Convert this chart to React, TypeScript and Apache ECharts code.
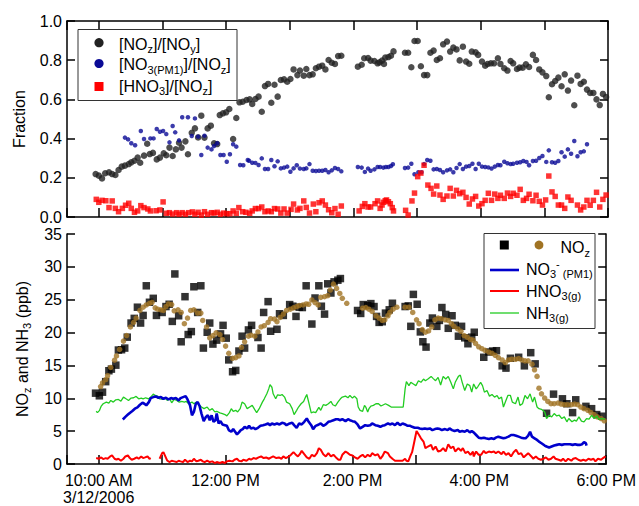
import React, { useEffect, useRef } from 'react';
import * as echarts from 'echarts';

const FONT = '"Liberation Sans", Arial, Helvetica, sans-serif';

// ---- Top panel: fractions (time in decimal hours, 3/12/2006) ----
const nozNoyRatio = [
  [9.95,0.219],[10.0,0.211],[10.05,0.197],[10.1,0.223],[10.16,0.228],[10.21,0.219],[10.26,0.214],[10.31,0.24],[10.36,0.257],[10.41,0.262],
  [10.47,0.27],[10.51,0.279],[10.56,0.287],[10.61,0.303],[10.65,0.277],[10.71,0.313],[10.76,0.374],[10.8,0.321],[10.85,0.327],[10.91,0.294],
  [10.96,0.303],[11.02,0.325],[11.06,0.315],[11.11,0.354],[11.16,0.311],[11.21,0.345],[11.26,0.379],[11.3,0.354],[11.36,0.386],[11.4,0.32],
  [11.46,0.43],[11.51,0.452],[11.56,0.406],[11.61,0.517],[11.66,0.405],[11.71,0.452],[11.76,0.466],[11.81,0.376],[11.86,0.372],[11.9,0.52],
  [11.95,0.529],[12.0,0.534],[12.05,0.551],[12.11,0.398],[12.16,0.505],[12.21,0.585],[12.26,0.588],[12.32,0.597],
  [12.37,0.6],[12.41,0.577],[12.46,0.602],[12.51,0.614],[12.56,0.537],[12.61,0.668],[12.66,0.679],[12.71,0.583],[12.76,0.675],[12.81,0.614],
  [12.86,0.699],[12.91,0.702],[12.96,0.69],[13.01,0.704],[13.06,0.753],[13.12,0.724],[13.16,0.747],[13.22,0.721],[13.26,0.755],[13.31,0.724],
  [13.36,0.728],[13.41,0.759],[13.46,0.767],[13.51,0.772],[13.56,0.753],[13.61,0.801],[13.66,0.787],[13.71,0.781],[13.76,0.821],[13.81,0.823],
  [14.07,0.767],[14.13,0.777],[14.17,0.81],[14.23,0.811],[14.27,0.798],[14.33,0.796],[14.38,0.784],[14.41,0.789],[14.45,0.798],[14.48,0.781],
  [14.5,0.813],[14.55,0.816],[14.59,0.823],[14.63,0.845],
  [14.81,0.838],[14.86,0.838],[14.91,0.764],[14.96,0.898],[15.01,0.898],[15.06,0.769],[15.11,0.724],[15.16,0.724],[15.21,0.838],
  [15.26,0.849],[15.31,0.801],[15.36,0.81],[15.41,0.881],[15.47,0.895],[15.52,0.844],[15.57,0.864],[15.62,0.855],[15.67,0.799],[15.72,0.869],
  [15.77,0.793],[15.82,0.782],[15.86,0.844],[15.92,0.84],[15.96,0.827],[16.02,0.793],[16.07,0.772],[16.11,0.781],[16.16,0.784],[16.21,0.784],
  [16.27,0.81],[16.31,0.781],[16.37,0.759],[16.42,0.747],[16.47,0.796],[16.51,0.784],[16.57,0.755],[16.61,0.762],[16.66,0.762],[16.71,0.779],
  [16.76,0.765],[16.82,0.827],[16.87,0.801],[16.92,0.753],[16.97,0.738],[17.03,0.719],[17.07,0.611],[17.12,0.677],[17.17,0.694],[17.22,0.711],
  [17.27,0.667],[17.32,0.728],[17.37,0.645],[17.42,0.696],[17.47,0.57],[17.52,0.721],[17.57,0.679],[17.62,0.69],[17.67,0.65],[17.72,0.633],
  [17.77,0.633],[17.82,0.6],[17.87,0.571],[17.92,0.628],[17.97,0.612],
];

const no3PmNozRatio = [
  [10.41,0.405],[10.46,0.396],[10.51,0.376],[10.57,0.366],[10.66,0.439],[10.71,0.398],[10.81,0.401],[10.86,0.401],[10.91,0.449],[10.96,0.435],
  [11.01,0.439],[11.06,0.423],[11.11,0.381],[11.16,0.464],[11.2,0.432],[11.26,0.391],[11.31,0.509],[11.4,0.509],[11.46,0.413],[11.51,0.503],
  [11.56,0.41],[11.61,0.316],[11.66,0.415],[11.71,0.354],[11.77,0.345],[11.81,0.362],[11.86,0.376],[11.91,0.316],[11.96,0.316],[12.01,0.282],
  [12.06,0.32],[12.11,0.371],[12.16,0.359],[12.22,0.265],[12.27,0.264],[12.34,0.291],
  [12.36,0.287],[12.41,0.277],[12.46,0.276],[12.51,0.265],[12.56,0.299],[12.61,0.245],[12.66,0.245],[12.71,0.291],[12.76,0.259],[12.81,0.284],
  [12.86,0.248],[12.91,0.252],[12.96,0.257],[13.01,0.231],[13.06,0.248],[13.11,0.264],[13.16,0.247],[13.22,0.245],[13.26,0.248],[13.31,0.27],
  [13.36,0.236],[13.41,0.235],[13.46,0.236],[13.51,0.236],[13.56,0.24],[13.61,0.228],[13.66,0.238],[13.71,0.25],[13.76,0.245],[13.81,0.233],
  [14.07,0.255],[14.13,0.252],[14.18,0.23],[14.23,0.247],[14.27,0.236],[14.33,0.243],[14.38,0.255],[14.42,0.255],[14.47,0.252],[14.51,0.255],
  [14.55,0.255],[14.59,0.26],[14.62,0.269],
  [14.81,0.25],[14.86,0.252],[14.91,0.272],[14.96,0.218],[15.02,0.228],[15.07,0.228],[15.11,0.27],[15.16,0.291],[15.21,0.287],
  [15.26,0.243],[15.31,0.245],[15.36,0.24],[15.41,0.228],[15.47,0.238],[15.52,0.243],[15.57,0.228],[15.62,0.25],[15.67,0.27],[15.72,0.245],
  [15.77,0.257],[15.82,0.26],[15.87,0.272],[15.92,0.245],[15.97,0.272],[16.02,0.257],[16.07,0.255],[16.12,0.253],[16.17,0.247],[16.22,0.257],
  [16.27,0.265],[16.31,0.264],[16.37,0.282],[16.42,0.274],[16.47,0.27],[16.51,0.272],[16.57,0.277],[16.62,0.279],[16.67,0.286],[16.72,0.281],
  [16.76,0.264],[16.82,0.286],[16.87,0.287],[16.92,0.301],[16.97,0.311],[17.03,0.281],[17.07,0.34],[17.12,0.279],[17.17,0.277],[17.22,0.286],
  [17.27,0.33],[17.32,0.308],[17.37,0.345],[17.42,0.323],[17.47,0.388],[17.52,0.31],[17.57,0.33],[17.62,0.335],[17.67,0.371],
];

const hno3NozRatio = [
  [9.96,0.09],[10.0,0.075],[10.05,0.085],[10.11,0.083],[10.16,0.048],[10.21,0.082],[10.26,0.044],[10.31,0.027],[10.37,0.044],[10.42,0.06],
  [10.47,0.07],[10.51,0.044],[10.56,0.024],[10.61,0.031],[10.66,0.058],[10.71,0.048],[10.77,0.041],[10.81,0.031],[10.9,0.032],[10.96,0.036],
  [11.01,0.077],[11.06,0.019],[11.11,0.022],[11.16,0.015],[11.22,0.022],[11.26,0.014],[11.31,0.022],[11.36,0.014],[11.41,0.022],[11.47,0.026],
  [11.51,0.014],[11.56,0.024],[11.61,0.01],[11.66,0.027],[11.71,0.014],[11.77,0.022],[11.81,0.02],[11.86,0.024],[11.91,0.014],[11.96,0.02],
  [12.01,0.017],[12.06,0.017],[12.11,0.031],[12.16,0.019],[12.2,0.048],[12.26,0.027],[12.31,0.024],[12.37,0.019],
  [12.41,0.031],[12.46,0.043],[12.51,0.043],[12.56,0.051],[12.61,0.027],[12.66,0.031],[12.71,0.027],[12.76,0.043],[12.81,0.041],[12.86,0.02],
  [12.91,0.041],[12.96,0.02],[13.02,0.039],[13.06,0.066],[13.12,0.036],[13.16,0.044],[13.22,0.082],[13.26,0.049],[13.31,0.02],[13.37,0.066],
  [13.41,0.027],[13.46,0.073],[13.51,0.082],[13.56,0.061],[13.61,0.037],[13.66,0.022],[13.71,0.043],[13.76,0.014],[13.81,0.056],
  [14.09,0.031],[14.14,0.054],[14.18,0.068],[14.23,0.051],[14.27,0.051],[14.34,0.068],[14.38,0.082],[14.42,0.044],[14.45,0.061],[14.47,0.075],
  [14.5,0.083],[14.52,0.087],[14.55,0.078],[14.58,0.068],[14.61,0.048],[14.63,0.031],
  [14.82,0.034],[14.86,0.01],[14.92,0.082],[14.96,0.122],[15.01,0.206],[15.06,0.224],[15.11,0.264],[15.17,0.163],[15.22,0.146],
  [15.26,0.117],[15.31,0.158],[15.36,0.112],[15.41,0.09],[15.47,0.107],[15.52,0.146],[15.57,0.107],[15.62,0.136],[15.67,0.119],[15.72,0.126],
  [15.77,0.1],[15.82,0.066],[15.87,0.092],[15.92,0.105],[15.97,0.056],[16.02,0.068],[16.07,0.085],[16.12,0.121],[16.17,0.085],[16.22,0.117],
  [16.27,0.095],[16.31,0.111],[16.37,0.095],[16.42,0.122],[16.47,0.105],[16.51,0.121],[16.57,0.111],[16.62,0.141],[16.67,0.085],[16.72,0.095],
  [16.76,0.116],[16.82,0.083],[16.87,0.111],[16.92,0.08],[16.97,0.061],[17.02,0.087],[17.07,0.209],[17.12,0.128],[17.17,0.105],[17.22,0.061],
  [17.27,0.061],[17.32,0.044],[17.37,0.102],[17.42,0.085],[17.52,0.061],[17.57,0.036],[17.62,0.051],[17.67,0.085],[17.72,0.06],[17.77,0.085],
  [17.82,0.126],[17.87,0.051],[17.92,0.09],[17.97,0.112],
];

// ---- Bottom panel: mixing ratios (ppb) ----
const nozSquares = [
  [9.95,10.78],[10.01,10.38],[10.06,10.93],[10.11,12.53],[10.16,14.19],[10.2,14.44],[10.27,15.04],[10.31,17.34],[10.36,17.39],[10.41,17.64],
  [10.45,19.3],[10.51,21.45],[10.56,22.16],[10.61,23.86],[10.66,21.45],[10.7,22.61],[10.75,27.12],[10.8,24.61],[10.86,25.21],[10.91,22.61],
  [11.0,23.06],[11.06,23.96],[11.11,24.31],[11.16,21.7],[11.2,28.92],[11.26,22.56],[11.3,18.6],[11.36,25.46],[11.41,19.7],[11.46,20.15],
  [11.5,26.97],[11.56,23.06],[11.61,27.12],[11.65,17.64],
  [11.71,20.05],[11.75,21.45],[11.8,18.25],[11.86,18.85],[11.92,19.8],[11.96,21.1],[12.01,19.15],[12.05,15.84],[12.11,14.04],[12.16,14.24],
  [12.21,17.19],[12.26,19.45],[12.3,17.64],[12.36,20.4],[12.41,21.1],[12.51,19.25],[12.56,17.64],[12.6,23.06],[12.67,24.71],[12.71,20.2],
  [12.81,20.5],[12.85,22.86],[12.91,22.61],[13.01,24.26],[13.06,24.01],[13.11,22.46],[13.16,23.86],[13.21,23.81],[13.27,27.12],[13.36,21.3],
  [13.41,25.26],[13.47,27.12],[13.51,24.01],[13.56,22.81],[13.61,27.42],[13.66,26.02],[13.71,27.72],[13.77,27.97],[13.81,28.22],
  [14.08,23.36],[14.13,22.91],[14.17,24.26],[14.24,24.11],[14.29,24.41],[14.34,23.96],[14.38,22.46],[14.42,21.55],[14.47,21.65],[14.52,22.96],
  [14.58,23.46],[14.63,24.46],[14.83,23.96],[14.88,24.06],[14.92,20.95],[14.96,25.81],[15.02,24.31],[15.07,20.1],[15.11,18.6],[15.16,17.79],
  [15.22,21.45],[15.26,22.21],[15.33,20.95],[15.37,21.85],[15.41,23.81],[15.47,22.76],[15.51,20.65],[15.57,22.56],[15.62,21.1],[15.67,19.45],
  [15.72,20.95],[15.77,19.2],[15.82,18.3],[15.88,19.3],[15.92,20.05],
  [16.07,16.24],[16.15,17.04],[16.21,17.19],[16.27,17.24],[16.36,14.94],[16.42,14.59],[16.49,16.09],[16.62,16.24],[16.71,14.94],[16.81,16.94],
  [16.88,15.24],[17.06,7.72],[17.17,10.63],[17.31,9.92],[17.38,9.17],[17.47,7.82],[17.52,9.77],[17.68,8.77],[17.77,8.42],[17.85,7.52],[17.93,7.27],
];

const nozDots = [
  [10.03,11.78],[10.06,12.33],[10.11,12.83],[10.14,13.43],[10.19,14.69],[10.25,15.79],[10.28,16.44],[10.33,17.44],[10.39,18.7],[10.44,19.55],
  [10.5,20.85],[10.55,21.55],[10.59,22.21],[10.65,23.36],[10.7,23.86],[10.75,24.21],[10.8,24.46],[10.84,24.61],[10.89,23.76],[10.93,23.56],
  [10.98,23.46],[11.02,23.36],[11.06,23.96],[11.1,24.36],[11.15,24.26],[11.19,23.31],[11.25,23.46],[11.3,23.06],[11.35,21.35],[11.4,22.21],
  [11.45,23.36],[11.5,23.46],[11.56,22.96],[11.61,22.96],[11.64,21.85],[11.7,20.85],[11.75,19.2],[11.8,19.55],[11.85,19.95],[11.91,19.7],
  [11.95,18.95],[12.0,17.94],[12.05,16.84],[12.11,16.09],[12.16,16.19],[12.21,16.44],[12.25,17.74],[12.3,18.6],[12.36,19.45],[12.4,19.6],
  [12.46,19.45],[12.51,20.1],[12.56,20.85],[12.61,21.05],[12.67,21.55],[12.71,22.11],[12.77,22.06],[12.81,21.65],[12.86,22.31],[12.91,22.81],
  [12.96,23.36],[13.02,23.56],[13.07,23.76],[13.12,23.96],[13.16,24.11],[13.22,24.21],[13.27,24.36],[13.31,24.31],[13.36,24.96],[13.41,24.56],
  [13.46,24.21],[13.5,25.36],[13.56,25.46],[13.61,25.61],[13.65,26.47],[13.7,27.37],[13.75,26.72],[13.8,25.96],[13.84,25.21],[13.91,24.46],
  [14.16,23.71],[14.21,23.81],[14.26,23.56],[14.31,23.21],[14.37,22.56],[14.42,22.21],[14.47,21.85],[14.51,21.95],[14.56,22.56],[14.59,23.06],
  [14.64,23.56],[14.7,23.86],[14.83,23.86],[14.89,23.86],[14.95,23.06],[15.01,21.95],[15.05,21.35],[15.1,20.45],[15.15,20.05],[15.2,20.25],
  [15.25,20.85],[15.3,21.95],[15.35,22.21],[15.4,22.11],[15.46,21.95],[15.51,21.85],[15.56,21.35],[15.6,20.95],[15.66,20.55],[15.71,20.2],
  [15.76,19.55],[15.81,19.3],[15.86,18.95],[15.9,18.85],[15.94,18.35],[15.99,17.84],[16.04,17.54],[16.09,17.29],[16.15,17.04],[16.2,16.84],
  [16.25,16.54],[16.3,16.19],[16.36,15.84],[16.41,15.44],[16.46,15.84],[16.51,15.94],[16.57,15.94],[16.62,16.04],[16.67,15.84],[16.72,15.69],
  [16.77,15.69],[16.83,15.19],[16.87,14.34],[16.91,13.33],[16.94,11.53],[16.98,10.68],[17.03,10.03],[17.08,9.52],[17.13,9.17],[17.18,9.17],
  [17.24,9.27],[17.29,9.12],[17.34,9.02],[17.39,9.02],[17.45,9.02],[17.5,9.12],[17.55,9.02],[17.6,8.67],[17.65,8.42],[17.71,8.17],
  [17.76,7.82],[17.81,7.52],[17.86,7.17],[17.92,6.92],[17.97,6.57],
];

const nh3Line = [
  [9.96,8.02],[9.98,7.82],[10.01,8.12],[10.04,8.82],[10.07,9.17],[10.12,9.42],[10.16,9.27],[10.19,9.67],[10.23,9.42],[10.27,9.77],
  [10.31,9.82],[10.35,9.57],[10.39,10.18],[10.43,9.92],[10.47,9.67],[10.51,10.03],[10.55,10.08],[10.59,10.28],[10.63,9.92],[10.67,10.03],
  [10.7,9.92],[10.74,10.08],[10.79,9.92],[10.82,10.18],[10.86,10.63],[10.89,10.43],[10.93,10.33],[10.96,9.92],[11.01,9.82],[11.05,10.03],
  [11.08,9.67],[11.12,9.92],[11.15,9.32],[11.19,9.82],[11.23,9.67],[11.27,9.42],[11.31,9.52],[11.35,9.42],[11.38,9.52],[11.42,9.17],
  [11.47,9.42],[11.5,9.17],[11.54,9.42],[11.58,9.02],[11.62,8.67],[11.66,8.42],[11.71,8.67],[11.75,8.17],[11.79,8.42],[11.83,7.92],
  [11.86,8.02],[11.91,7.77],[11.95,7.67],[11.99,7.52],[12.02,7.32],[12.06,7.82],[12.09,8.42],[12.12,8.02],[12.16,8.17],[12.19,7.92],
  [12.23,8.42],[12.26,9.42],[12.3,9.17],[12.34,8.42],[12.38,8.67],[12.42,8.92],[12.46,8.27],[12.49,7.82],[12.53,8.42],[12.58,9.42],
  [12.61,9.92],[12.65,10.68],[12.68,11.43],[12.7,12.08],[12.73,11.68],[12.75,10.68],[12.79,9.92],[12.82,10.53],[12.86,10.43],[12.89,10.58],
  [12.93,10.18],[12.96,9.42],[13.01,9.17],[13.05,8.42],[13.08,7.52],[13.12,8.17],[13.15,8.67],[13.19,9.17],[13.23,9.52],[13.26,10.18],
  [13.28,10.58],[13.31,9.42],[13.35,7.77],[13.38,7.92],[13.42,7.82],[13.47,8.62],[13.5,8.17],[13.54,9.02],[13.58,8.92],[13.62,9.17],
  [13.66,9.52],[13.69,9.02],[13.73,8.82],[13.77,9.42],[13.81,9.92],[13.84,10.18],[13.89,10.33],[13.93,10.08],[13.96,10.43],[14.0,10.03],
  [14.03,10.33],[14.07,9.92],[14.09,8.67],[14.12,8.17],[14.16,8.02],[14.19,8.92],[14.21,8.67],[14.24,7.92],[14.26,8.42],[14.29,8.82],
  [14.33,8.92],[14.37,9.17],[14.41,9.17],[14.45,8.82],[14.49,9.02],[14.52,9.17],[14.57,8.92],[14.61,8.67],[14.64,8.67],[14.7,8.67],
  [14.75,8.67],[14.8,8.67],[14.83,11.43],[14.85,12.53],[14.89,11.93],[14.92,12.43],[14.96,12.18],[15.0,11.93],[15.04,12.68],[15.08,12.43],
  [15.12,12.93],[15.15,12.68],[15.19,12.93],[15.24,13.33],[15.27,13.03],[15.31,12.68],[15.35,13.18],[15.39,12.03],[15.43,13.33],[15.47,12.93],
  [15.51,13.33],[15.55,12.43],[15.59,11.43],[15.62,12.43],[15.67,13.33],[15.7,13.53],[15.73,12.43],[15.77,11.18],[15.81,12.18],[15.85,11.93],
  [15.88,10.93],[15.91,12.18],[15.95,11.43],[15.98,11.83],[16.02,12.43],[16.05,11.93],[16.08,10.93],[16.12,11.18],[16.16,10.33],[16.2,10.58],
  [16.24,10.18],[16.28,10.43],[16.31,9.92],[16.35,10.18],[16.38,8.67],[16.41,9.42],[16.45,10.43],[16.49,10.43],[16.52,9.42],[16.57,9.17],
  [16.61,10.18],[16.64,8.92],[16.68,9.17],[16.72,10.43],[16.76,9.92],[16.8,10.68],[16.84,9.42],[16.87,10.18],[16.91,8.67],[16.94,8.42],
  [16.98,8.32],[17.03,7.92],[17.06,6.92],[17.1,7.42],[17.14,7.17],[17.18,7.67],[17.22,7.32],[17.26,7.42],[17.3,6.92],[17.34,7.17],
  [17.38,6.42],[17.41,6.92],[17.46,6.42],[17.5,6.67],[17.53,6.52],[17.57,7.17],[17.61,6.52],[17.65,6.42],[17.69,6.92],[17.73,6.82],
  [17.77,7.42],[17.81,6.92],[17.85,7.32],[17.88,6.82],[17.93,6.92],[17.98,6.82],
];

const no3PmLine = [
  [10.38,6.77],[10.42,7.17],[10.46,7.52],[10.49,7.77],[10.53,8.07],[10.57,8.42],[10.61,8.62],[10.65,9.02],[10.69,9.32],[10.72,9.17],
  [10.75,8.92],[10.79,9.42],[10.82,10.03],[10.86,10.18],[10.9,10.28],[10.94,10.08],[10.98,10.18],[11.02,9.92],[11.06,10.08],[11.1,9.82],
  [11.14,10.03],[11.17,9.92],[11.22,10.03],[11.26,9.67],[11.29,10.03],[11.33,10.18],[11.37,10.33],[11.4,9.82],[11.44,8.92],[11.47,7.42],
  [11.5,7.92],[11.53,9.17],[11.56,9.42],[11.59,8.82],[11.62,7.67],[11.655,6.52],[11.69,7.17],[11.72,7.42],[11.75,6.67],[11.78,7.42],
  [11.81,6.42],[11.84,6.67],[11.86,7.67],[11.89,6.17],[11.92,6.52],[11.95,6.02],[11.99,5.91],[12.02,5.81],[12.05,5.16],[12.09,4.91],
  [12.12,5.31],[12.15,4.91],[12.18,4.51],[12.21,4.81],[12.24,5.16],[12.27,5.31],[12.3,5.66],[12.34,5.41],[12.37,5.81],[12.4,5.41],
  [12.44,5.51],[12.47,5.31],[12.51,5.51],[12.55,5.81],[12.59,5.91],[12.63,6.02],[12.67,6.17],[12.7,5.91],[12.73,6.17],[12.77,6.02],
  [12.81,6.17],[12.85,6.02],[12.89,6.27],[12.93,6.17],[12.96,5.91],[13.01,6.17],[13.05,6.27],[13.08,5.91],[13.12,5.51],[13.16,6.17],
  [13.2,6.02],[13.24,6.42],[13.28,6.92],[13.31,6.42],[13.35,5.91],[13.38,5.31],[13.42,5.81],[13.47,6.02],[13.5,6.17],[13.54,5.81],
  [13.58,6.02],[13.62,6.42],[13.66,6.52],[13.7,6.67],[13.74,6.82],[13.77,6.82],[13.81,6.67],[13.84,6.82],[13.89,6.52],[13.93,6.82],
  [13.96,6.67],[14.0,6.52],[14.04,6.42],[14.08,6.02],[14.12,5.41],[14.16,5.66],[14.2,5.91],[14.24,5.81],[14.28,5.91],[14.31,6.17],
  [14.36,5.91],[14.4,5.81],[14.44,5.66],[14.47,5.81],[14.51,5.91],[14.56,6.17],[14.59,6.02],[14.63,6.17],[14.67,5.91],[14.71,6.27],
  [14.75,5.91],[14.79,6.17],[14.83,6.02],[14.87,5.81],[14.91,5.81],[14.94,5.66],[14.98,5.51],[15.03,5.51],[15.06,5.41],[15.1,5.31],
  [15.14,5.41],[15.18,5.31],[15.22,5.41],[15.26,5.16],[15.3,5.31],[15.34,5.41],[15.38,5.31],[15.41,5.16],[15.46,5.31],[15.5,5.16],
  [15.53,5.41],[15.57,5.16],[15.61,5.01],[15.66,5.16],[15.69,4.91],[15.73,5.01],[15.77,4.91],[15.81,5.16],[15.85,4.81],[15.88,5.01],
  [15.91,4.81],[15.95,4.41],[15.99,4.01],[16.03,3.91],[16.07,4.01],[16.1,3.91],[16.15,3.81],[16.19,3.91],[16.23,3.81],[16.26,4.01],
  [16.3,4.16],[16.35,4.01],[16.38,3.91],[16.42,4.01],[16.46,4.16],[16.5,4.41],[16.54,4.41],[16.58,4.31],[16.62,4.16],[16.66,4.01],
  [16.7,3.91],[16.73,3.91],[16.77,4.31],[16.8,4.91],[16.83,4.16],[16.87,3.91],[16.91,3.66],[16.94,3.41],[16.98,3.16],[17.03,2.81],
  [17.06,2.66],[17.1,2.51],[17.14,2.66],[17.18,2.81],[17.22,2.91],[17.26,3.01],[17.3,2.91],[17.34,3.01],[17.38,3.01],[17.43,3.01],
  [17.47,2.91],[17.51,3.01],[17.55,2.91],[17.59,2.91],[17.62,3.01],[17.65,3.31],[17.68,3.16],[17.69,2.81],
];

const hno3Line = [
  [9.96,0.9],[10.0,0.8],[10.04,1.0],[10.07,0.75],[10.11,0.9],[10.14,0.8],[10.18,1.15],[10.21,1.3],[10.25,0.8],[10.28,0.65],
  [10.31,0.8],[10.35,0.5],[10.39,0.8],[10.42,1.15],[10.46,1.3],[10.49,0.9],[10.52,0.65],[10.56,0.8],[10.6,1.0],[10.63,0.8],
  [10.67,1.15],[10.7,0.9],[10.73,1.0],[10.77,1.15],[10.8,0.8],[10.82,0.9],[10.89,null],[10.96,0.8],[11.0,1.65],[11.02,1.8],
  [11.05,1.15],[11.08,0.5],[11.12,0.3],[11.15,0.5],[11.19,0.4],[11.23,0.3],[11.26,0.5],[11.29,0.4],[11.33,0.3],[11.36,0.65],
  [11.4,0.3],[11.44,0.5],[11.47,0.4],[11.5,0.8],[11.54,0.4],[11.57,0.5],[11.61,0.65],[11.64,0.4],[11.67,0.3],[11.71,0.5],
  [11.75,0.3],[11.79,0.4],[11.83,0.15],[11.86,0.3],[11.91,0.15],[11.95,0.3],[11.99,0.15],[12.02,0.4],[12.06,0.5],[12.11,0.4],
  [12.14,0.65],[12.18,0.8],[12.21,0.5],[12.25,0.4],[12.28,0.65],[12.33,0.5],[12.37,0.8],[12.4,0.65],[12.44,0.9],[12.48,0.8],
  [12.52,1.0],[12.56,1.15],[12.6,0.9],[12.64,1.0],[12.68,0.8],[12.72,1.0],[12.75,1.15],[12.8,0.9],[12.84,1.0],[12.88,0.8],
  [12.91,1.15],[12.95,0.9],[13.0,1.15],[13.03,1.4],[13.07,1.8],[13.1,1.5],[13.14,1.15],[13.17,1.5],[13.2,2.01],[13.24,1.5],
  [13.28,1.0],[13.32,0.8],[13.36,1.4],[13.4,1.15],[13.44,1.65],[13.47,2.41],[13.5,2.16],[13.54,1.5],[13.58,1.15],[13.62,1.65],
  [13.66,1.15],[13.7,1.4],[13.74,1.0],[13.78,0.65],[13.81,0.65],[13.84,1.4],[13.89,1.9],[13.93,1.65],[13.96,1.4],[14.0,1.3],
  [14.04,1.0],[14.08,0.8],[14.12,1.15],[14.16,1.4],[14.2,1.0],[14.24,1.4],[14.28,1.15],[14.31,1.65],[14.36,1.3],[14.4,1.5],
  [14.44,0.8],[14.47,1.15],[14.51,1.9],[14.56,1.65],[14.59,1.15],[14.63,0.8],[14.67,0.5],[14.71,0.5],[14.75,0.5],[14.79,0.5],
  [14.83,0.8],[14.85,0.5],[14.88,0.4],[14.91,1.15],[14.94,1.8],[14.97,3.16],[15.01,5.01],[15.05,4.41],[15.08,3.91],[15.12,3.41],
  [15.15,2.41],[15.19,2.66],[15.24,2.91],[15.27,2.16],[15.31,2.66],[15.35,1.9],[15.39,2.01],[15.43,2.41],[15.47,1.9],[15.51,3.01],
  [15.55,2.41],[15.59,2.66],[15.62,1.9],[15.67,2.41],[15.71,2.01],[15.74,2.41],[15.78,1.65],[15.82,1.9],[15.86,1.4],[15.9,1.9],
  [15.91,1.15],[15.95,1.9],[15.99,1.4],[16.03,1.4],[16.07,2.01],[16.1,1.65],[16.15,1.9],[16.19,1.8],[16.23,1.9],[16.26,1.65],
  [16.3,1.9],[16.35,1.5],[16.38,1.9],[16.42,1.4],[16.46,1.65],[16.5,1.15],[16.54,1.8],[16.58,2.16],[16.62,1.5],[16.66,1.65],
  [16.7,1.0],[16.73,1.3],[16.77,1.65],[16.82,1.15],[16.85,0.8],[16.89,1.15],[16.93,0.8],[16.97,0.65],[17.01,0.8],[17.05,1.0],
  [17.09,0.65],[17.13,0.8],[17.17,1.15],[17.2,0.8],[17.25,0.65],[17.29,0.5],[17.32,0.8],[17.36,0.4],[17.4,0.8],[17.45,0.5],
  [17.48,0.8],[17.52,0.9],[17.56,0.65],[17.6,0.5],[17.64,0.65],[17.68,0.5],[17.72,0.8],[17.76,0.65],[17.8,0.8],[17.83,0.4],
  [17.87,0.8],[17.92,0.65],[17.95,0.9],[17.99,1.15],
];

// ---- Axis ticks / labels ----
const timeLabelHours = [10, 12, 14, 16, 18];
const timeLabelTexts = ['10:00 AM\n3/12/2006', '12:00 PM', '2:00 PM', '4:00 PM', '6:00 PM'];
const timeRange = [9.5, 18];
const fractionRange = [0, 1];
const fractionStep = 0.2;
const ppbRange = [0, 35];
const ppbStep = 5;

const C_BLACK = '#222222';
const C_NAVY = '#0a0a96';
const C_RED = '#ff0000';
const C_BROWN = '#a07323';
const C_GREEN = '#22cc22';
const C_BLUE = '#0000cc';

const axisLine = { show: true, onZero: false, lineStyle: { color: '#000', width: 1.5 } };
const labelStyle = { fontSize: 16, color: '#000', fontFamily: FONT };

const RICH_LABEL = {
  sub: { fontSize: 11, lineHeight: 12, padding: [10, 0, 0, 0], fontFamily: FONT, color: '#000' },
};

const RICH_G = {
  sub: { fontSize: 11, lineHeight: 12, padding: [10, 0, 0, 0], fontFamily: FONT, fill: '#000' },
  sup: { fontSize: 11, lineHeight: 12, padding: [0, 0, 10, 0], fontFamily: FONT, fill: '#000' },
};

function gText(x: number, y: number, text: string) {
  return {
    type: 'text',
    x,
    y,
    silent: true,
    z: 100,
    style: {
      text,
      x: 0,
      y: 0,
      fill: '#000',
      fontSize: 16,
      lineHeight: 18,
      fontFamily: FONT,
      align: 'left',
      verticalAlign: 'middle',
      rich: RICH_G,
    },
  };
}

function timeXAxis(gridIndex: number, position: string, showLabels: boolean) {
  return {
    type: 'value',
    gridIndex,
    position,
    min: timeRange[0],
    max: timeRange[1],
    splitNumber: 8,
    minInterval: 1,
    maxInterval: 1,
    axisLine,
    axisTick: { show: true, inside: true, length: 9, lineStyle: { color: '#000', width: 1.5 } },
    splitLine: { show: false },
    axisLabel: showLabels
      ? {
          show: true,
          ...labelStyle,
          lineHeight: 17,
          margin: 8,
          formatter: (v: number) => {
            const i = timeLabelHours.indexOf(Math.round(v * 100) / 100);
            return i >= 0 ? timeLabelTexts[i] : '';
          },
        }
      : { show: false },
  };
}

function valueYAxis(gridIndex: number, position: string, range: number[], step: number, showLabels: boolean, extra: any = {}) {
  return {
    type: 'value',
    gridIndex,
    position,
    min: range[0],
    max: range[1],
    interval: step,
    axisLine,
    axisTick: { show: true, inside: true, length: 8, lineStyle: { color: '#000', width: 1.5 } },
    splitLine: { show: false },
    axisLabel: showLabels
      ? { show: true, ...labelStyle, margin: 5, formatter: (v: number) => (step < 1 ? v.toFixed(1) : String(Math.round(v))) }
      : { show: false },
    ...extra,
  };
}

export default function App() {
  const ref = useRef<HTMLDivElement>(null);

  useEffect(() => {
    if (!ref.current) return;
    const chart = echarts.init(ref.current, undefined, { renderer: 'svg' });

    const option: any = {
      animation: false,
      backgroundColor: '#ffffff',
      textStyle: { fontFamily: FONT },
      grid: [
        { left: 67, top: 21, width: 541, height: 196 },
        { left: 67, top: 234, width: 541, height: 233 },
      ],
      xAxis: [timeXAxis(0, 'bottom', false), timeXAxis(0, 'top', false), timeXAxis(1, 'bottom', true)],
      yAxis: [
        valueYAxis(0, 'left', fractionRange, fractionStep, true, {
          name: 'Fraction',
          nameLocation: 'middle',
          nameGap: 40,
          nameTextStyle: { ...labelStyle },
        }),
        valueYAxis(0, 'right', fractionRange, fractionStep, false),
        valueYAxis(1, 'left', ppbRange, ppbStep, true, {
          name: 'NO{sub|z} and NH{sub|3} (ppb)',
          nameLocation: 'middle',
          nameGap: 36,
          nameTextStyle: { ...labelStyle, lineHeight: 18, rich: RICH_LABEL },
        }),
        valueYAxis(1, 'right', ppbRange, ppbStep, false),
      ],
      series: [
        { name: '[NOz]/[NOy]', type: 'scatter', xAxisIndex: 0, yAxisIndex: 0, data: nozNoyRatio, symbol: 'circle', symbolSize: 6.5, itemStyle: { color: C_BLACK }, silent: true },
        { name: '[NO3(PM1)]/[NOz]', type: 'scatter', xAxisIndex: 0, yAxisIndex: 0, data: no3PmNozRatio, symbol: 'circle', symbolSize: 4.5, itemStyle: { color: C_NAVY }, silent: true },
        { name: '[HNO3]/[NOz]', type: 'scatter', xAxisIndex: 0, yAxisIndex: 0, data: hno3NozRatio, symbol: 'rect', symbolSize: 5.5, itemStyle: { color: C_RED }, silent: true },
        { name: 'NH3(g)', type: 'line', xAxisIndex: 2, yAxisIndex: 2, data: nh3Line, showSymbol: false, symbol: 'none', lineStyle: { color: C_GREEN, width: 1.3 }, silent: true },
        { name: 'HNO3(g)', type: 'line', xAxisIndex: 2, yAxisIndex: 2, data: hno3Line, showSymbol: false, symbol: 'none', connectNulls: false, lineStyle: { color: C_RED, width: 2 }, silent: true },
        { name: 'NO3-(PM1)', type: 'line', xAxisIndex: 2, yAxisIndex: 2, data: no3PmLine, showSymbol: false, symbol: 'none', lineStyle: { color: C_BLUE, width: 2.6 }, silent: true },
        { name: 'NOz squares', type: 'scatter', xAxisIndex: 2, yAxisIndex: 2, data: nozSquares, symbol: 'rect', symbolSize: 7.5, itemStyle: { color: '#000' }, silent: true },
        { name: 'NOz', type: 'scatter', xAxisIndex: 2, yAxisIndex: 2, data: nozDots, symbol: 'circle', symbolSize: 5.5, itemStyle: { color: C_BROWN }, silent: true },
      ],
      graphic: [
        // top legend
        { type: 'rect', z: 90, silent: true, shape: { x: 78, y: 29.5, width: 159, height: 71 }, style: { fill: '#fff', stroke: '#333', lineWidth: 1 } },
        { type: 'circle', z: 95, silent: true, shape: { cx: 99, cy: 42.7, r: 4.6 }, style: { fill: C_BLACK } },
        { type: 'circle', z: 95, silent: true, shape: { cx: 99, cy: 63.5, r: 4.6 }, style: { fill: C_NAVY } },
        { type: 'rect', z: 95, silent: true, shape: { x: 94.5, y: 82, width: 9, height: 9 }, style: { fill: C_RED } },
        gText(119, 44, '[NO{sub|z}]/[NO{sub|y}]'),
        gText(119, 64.5, '[NO{sub|3(PM1)}]/[NO{sub|z}]'),
        gText(119, 86, '[HNO{sub|3}]/[NO{sub|z}]'),
        // bottom legend
        { type: 'rect', z: 90, silent: true, shape: { x: 484, y: 233.5, width: 111, height: 95 }, style: { fill: '#fff', stroke: '#333', lineWidth: 1 } },
        { type: 'rect', z: 95, silent: true, shape: { x: 499.8, y: 240.5, width: 9, height: 9 }, style: { fill: '#000' } },
        { type: 'circle', z: 95, silent: true, shape: { cx: 539, cy: 245, r: 4.4 }, style: { fill: C_BROWN } },
        gText(560.5, 247.5, 'NO{sub|z}'),
        { type: 'line', z: 95, silent: true, shape: { x1: 490, y1: 270, x2: 519, y2: 270 }, style: { stroke: C_BLUE, lineWidth: 2.6 } },
        gText(526, 269, 'NO{sub|3}{sup|-}{sub| (PM1)}'),
        { type: 'line', z: 95, silent: true, shape: { x1: 490, y1: 291, x2: 519, y2: 291 }, style: { stroke: C_RED, lineWidth: 2 } },
        gText(526, 291, 'HNO{sub|3(g)}'),
        { type: 'line', z: 95, silent: true, shape: { x1: 490, y1: 313, x2: 519, y2: 313 }, style: { stroke: C_GREEN, lineWidth: 1.3 } },
        gText(526, 313, 'NH{sub|3(g)}'),
      ],
    };

    chart.setOption(option);
    return () => chart.dispose();
  }, []);

  return <div ref={ref} style={{ position: 'fixed', left: 0, top: 0, width: 639, height: 506 }} />;
}
